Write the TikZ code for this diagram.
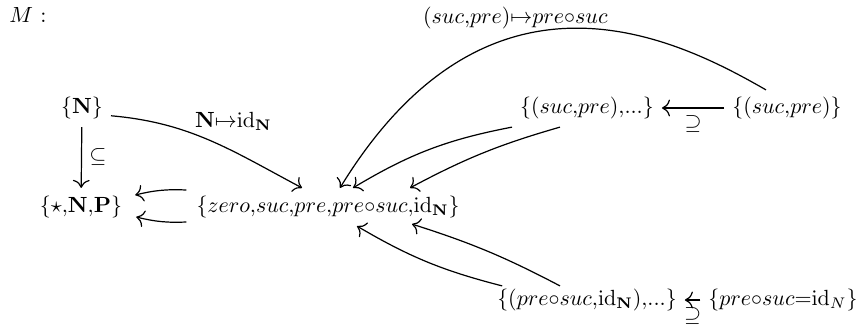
\documentclass[tikz,border=0pt]{standalone}
\usepackage{amsmath,amssymb}
\usetikzlibrary{arrows.meta,calc}

\begin{document}
\begin{tikzpicture}[x=0.016cm,y=-0.016cm,
    obj/.style={inner sep=3.5pt},
    arr/.style={-{Computer Modern Rightarrow[scale=1.3]},line width=0.55pt}]
  \useasboundingbox (0,0) rectangle (867,331);
  \node[anchor=west,inner sep=0pt] (M) at (9,15) {$M$ :};
  \node[obj] (nN)    at (82,108)  {$\{\mathbf{N}\}$};
  \node[obj] (star)  at (81,207)  {$\{\star{,}\mathbf{N}{,}\mathbf{P}\}$};
  \node[obj] (big)   at (328,207) {$\{zero{,}suc{,}pre{,}pre{\circ}suc{,}\mathrm{id}_{\mathbf{N}}\}$};
  \node[obj] (sp)    at (587,108) {$\{(suc{,}pre){,}...\}$};
  \node[obj] (spone) at (787,108) {$\{(suc{,}pre)\}$};
  \node[obj] (ps)    at (587,300) {$\{(pre{\circ}suc{,}\mathrm{id}_{\mathbf{N}}){,}...\}$};
  \node[obj] (eq)    at (783,300) {$\{pre{\circ}suc{=}\mathrm{id}_N\}$};
  \draw[arr] (nN) -- node[right] (incl) {$\subseteq$} (star);
  \draw[arr] (nN.-15) to[out=-5,in=152] node[pos=0.4,anchor=south west,inner sep=1pt] (idlab) {$\mathbf{N}{\mapsto}\mathrm{id}_{\mathbf{N}}$} ($(big.north)+(-26,0)$);
  \draw[arr] ($(big.west)+(-2,-17)$) to[bend right=8] ($(star.east)+(5,-12)$);
  \draw[arr] ($(big.west)+(-2,15)$) to[bend left=8] ($(star.east)+(6,10)$);
  \draw[arr] ($(spone.north)+(-21,1)$) .. controls +(-87,-50) and +(150,-245) .. ($(big.north)+(12,0)$)
    node[pos=0.63,above] (complab) {$(suc{,}pre){\mapsto}pre{\circ}suc$};
  \draw[arr] (spone) -- node[below] (supa) {$\supseteq$} (sp);
  \draw[arr] (sp.south west) to[bend right=10] ($(big.north)+(25,0)$);
  \draw[arr] ($(sp.south)+(-27,0)$) to[bend right=6] ($(big.north)+(82,0)$);
  \draw[arr] ($(ps.north west)+(13,5)$) to[bend left=8] ($(big.south)+(29,0)$);
  \draw[arr] ($(ps.north)+(-27,5)$) to[bend right=5] ($(big.south)+(84,-2)$);
  \draw[arr] (eq) -- node[below] (supb) {$\supseteq$} (ps);
\end{tikzpicture}
\end{document}
